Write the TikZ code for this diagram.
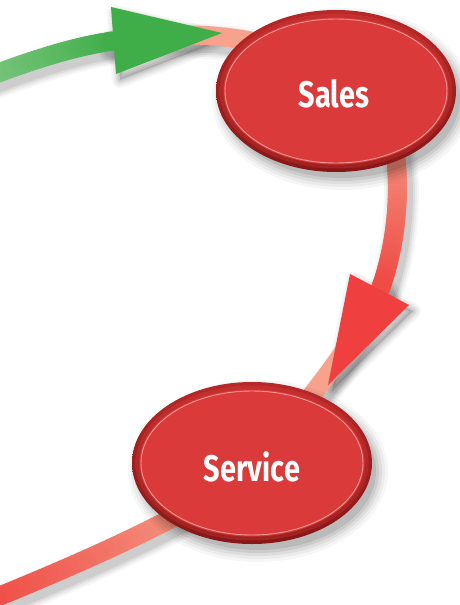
\documentclass[tikz,border=0pt]{standalone}
\usepackage{fontspec}
\newfontfamily\labfont{Fira Sans}[FakeStretch=0.78]
\usetikzlibrary{calc}
\definecolor{pale}{HTML}{F6A28C}
\definecolor{bandred}{HTML}{EE4A44}
\definecolor{arrred}{HTML}{EF3F3F}
\definecolor{grn}{HTML}{3FAE49}
\definecolor{grnlt}{HTML}{80C782}
\definecolor{fillred}{HTML}{DA3A39}
\definecolor{rimdk}{HTML}{861717}
\definecolor{rimlt}{HTML}{B82828}
\definecolor{hilite}{HTML}{F5A8A2}
\newcommand\gband[6]{%
  \foreach \k in {0,...,40}{\path (#1) .. controls (#2) and (#3) .. (#4) coordinate[pos=\k/40] (gb\k);}%
  \foreach \k [evaluate=\k as \kn using int(\k+1), evaluate=\k as \pc using int(100-2.5*\k)] in {0,...,39}{%
    \draw[band,draw=#5!\pc!#6] (gb\k) -- (gb\kn);}%
}
\newcommand\bubble[1]{%
  \foreach \g/\o in {10/0.035,7/0.045,4/0.06,1/0.08,-2/0.09}{\fill[black,opacity=\o] ($(#1)+(6,8)$) ellipse [x radius={120pt+\g pt}, y radius={81pt+\g pt}];}%
  \shade[top color=rimlt,bottom color=rimdk] (#1) ellipse [x radius=120pt,y radius=81pt];%
  \shade[top color=rimlt!60!fillred, bottom color=rimdk!70!fillred] (#1) ellipse [x radius=116.5pt,y radius=77.5pt];%
  \fill[fillred] (#1) ellipse [x radius=112.5pt,y radius=73.5pt];%
  \draw[hilite,line width=0.9pt,opacity=.85] (#1) ellipse [x radius=111pt,y radius=72pt];%
}
\begin{document}
\begin{tikzpicture}[x=1pt,y=-1pt,
  band/.style={line width=19pt,line cap=round},
  lbl/.style={font=\labfont\bfseries\fontsize{37}{40}\selectfont,text=white,inner sep=0pt}]
\useasboundingbox (0,0) rectangle (460,605);
\clip (0,0) rectangle (460,605);
% curve control points
\coordinate (a0) at (-25,82); \coordinate (a1) at (30,60); \coordinate (a2) at (80,45); \coordinate (a3) at (114,41);
\coordinate (b0) at (110,41); \coordinate (b1) at (160,34); \coordinate (b2) at (220,29); \coordinate (b3) at (285,50);
\coordinate (c0) at (390,125); \coordinate (c1) at (402,170); \coordinate (c2) at (400,235); \coordinate (c3) at (380,290);
\coordinate (d0) at (380,290); \coordinate (d1) at (360,330); \coordinate (d2) at (340,360); \coordinate (d3) at (300,410);
\coordinate (e0) at (205,500); \coordinate (e1) at (150,532); \coordinate (e2) at (70,568); \coordinate (e3) at (-25,606);
% arrowheads
\coordinate (gA) at (111,7); \coordinate (gT) at (222,33); \coordinate (gB) at (116,74);
\coordinate (rA) at (350,274); \coordinate (rB) at (409,305); \coordinate (rT) at (328,385);
% bubble centres
\coordinate (sc) at (336,91);
\coordinate (vc) at (252,463);
% shadows
\begin{scope}[transform canvas={shift={(4pt,-6pt)}}]
  \foreach \w/\o in {35/0.035,31/0.045,27/0.06,23/0.075}{
    \draw[black,opacity=\o,line width=\w pt,line cap=round] (a0) .. controls (a1) and (a2) .. (a3);
    \draw[black,opacity=\o,line width=\w pt,line cap=round] (b0) .. controls (b1) and (b2) .. (b3);
    \draw[black,opacity=\o,line width=\w pt,line cap=round] (c0) .. controls (c1) and (c2) .. (c3);
    \draw[black,opacity=\o,line width=\w pt,line cap=round] (d0) .. controls (d1) and (d2) .. (d3);
    \draw[black,opacity=\o,line width=\w pt,line cap=round] (e0) .. controls (e1) and (e2) .. (e3);
    \draw[black,opacity=\o,line width=\w pt-19pt,line join=round] (gA) -- (gT) -- (gB) -- cycle;
    \draw[black,opacity=\o,line width=\w pt-19pt,line join=round] (rA) -- (rB) -- (rT) -- cycle;
  }
  \fill[black,opacity=0.15] (gA) -- (gT) -- (gB) -- cycle;
  \fill[black,opacity=0.15] (rA) -- (rB) -- (rT) -- cycle;
\end{scope}
% pale ring parts
\draw[band,pale] (b0) .. controls (b1) and (b2) .. (b3);
\draw[band,pale] (d0) .. controls (d1) and (d2) .. (d3);
% gradient arcs
\gband{a0}{a1}{a2}{a3}{grnlt}{grn}
\gband{c0}{c1}{c2}{c3}{pale}{bandred}
\gband{e0}{e1}{e2}{e3}{pale}{bandred}
% arrowheads
\fill[grn] (gA) -- (gT) -- (gB) -- cycle;
\fill[arrred] (rA) -- (rB) -- (rT) -- cycle;
% bubbles
\bubble{sc}
\bubble{vc}
\node[lbl] (sales) at (334,94) {Sales};
\node[lbl] (service) at (252,467) {Service};
\end{tikzpicture}
\end{document}
